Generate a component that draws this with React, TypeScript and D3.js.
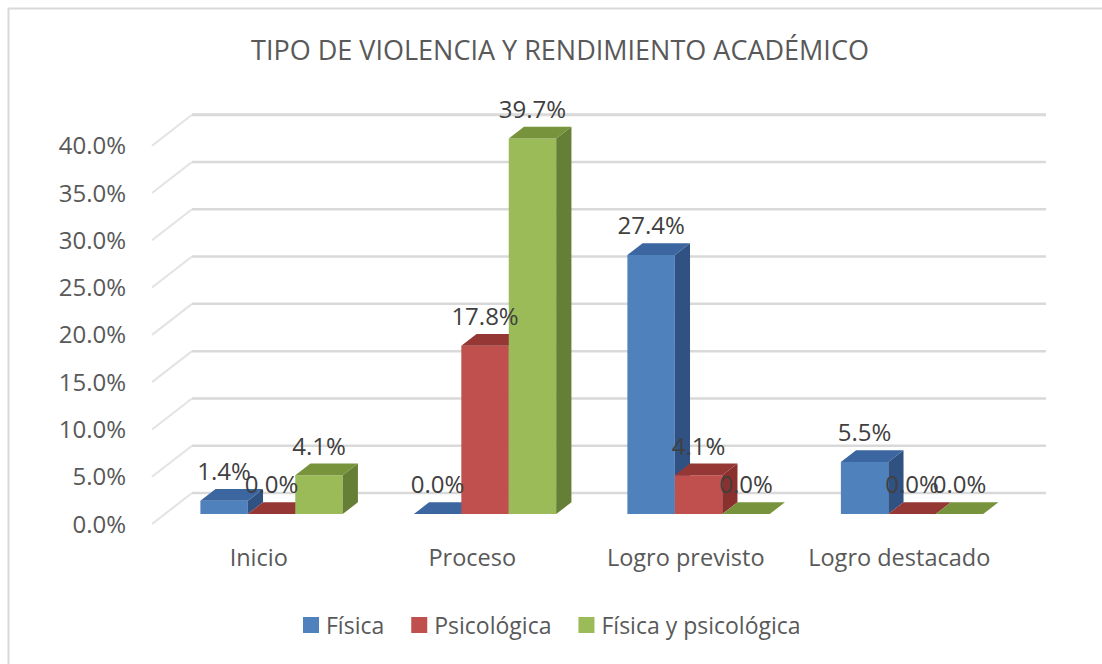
import React, { useEffect, useRef } from 'react';
import * as d3 from 'd3';

const title = 'TIPO DE VIOLENCIA Y RENDIMIENTO ACADÉMICO';
const categories = ['Inicio', 'Proceso', 'Logro previsto', 'Logro destacado'];
const seriesNames = ['Física', 'Psicológica', 'Física y psicológica'];
const fisica = [1.4, 0.0, 27.4, 5.5];
const psicologica = [0.0, 17.8, 4.1, 0.0];
const ambas = [4.1, 39.7, 0.0, 0.0];
const yTicks = [0, 5, 10, 15, 20, 25, 30, 35, 40];

// front / top / side shades per series
const colors = [
  { front: '#4F81BD', top: '#3B66A0', side: '#2F5283' },
  { front: '#C0504D', top: '#953735', side: '#8A302E' },
  { front: '#9BBB59', top: '#77933C', side: '#657F36' },
];

const FONT = "'Open Sans', sans-serif";

const App = () => {
  const ref = useRef<SVGSVGElement>(null);

  useEffect(() => {
    const svg = d3.select(ref.current);
    svg.selectAll('*').remove();

    const values = [fisica, psicologica, ambas];

    // floor front edge and depth vector of the 3D box
    const left = 152;
    const right = 1006;
    const depthX = 40;
    const depthY = -31;
    const t0 = 0.32; // bar front depth
    const t1 = 0.7; // bar back depth

    const y = d3.scaleLinear().domain([0, 40]).range([524, 145.7]);
    const x = d3.scaleBand().domain(categories).range([left, right]);
    const xs = d3
      .scaleBand()
      .domain(seriesNames)
      .range([0, x.bandwidth()])
      .paddingInner(0)
      .paddingOuter(0.75);

    // border of the chart area
    svg.append('path')
      .attr('d', 'M8.5,664 L8.5,8.5 L1102,8.5')
      .attr('fill', 'none')
      .attr('stroke', '#D9D9D9')
      .attr('stroke-width', 2);

    svg.append('text')
      .attr('x', 560)
      .attr('y', 60)
      .attr('text-anchor', 'middle')
      .attr('font-family', FONT)
      .attr('font-size', 27)
      .attr('fill', '#595959')
      .text(title);

    // gridlines: diagonal on the side wall, then along the back wall
    const grid = svg.append('g');
    yTicks.forEach((v) => {
      const y0 = y(v);
      grid.append('line')
        .attr('x1', left).attr('y1', y0)
        .attr('x2', left + depthX).attr('y2', y0 + depthY)
        .attr('stroke', '#E3E3E3').attr('stroke-width', 2);
      grid.append('line')
        .attr('x1', left + depthX).attr('y1', y0 + depthY)
        .attr('x2', right + depthX).attr('y2', y0 + depthY)
        .attr('stroke', '#D9D9D9').attr('stroke-width', v === 40 ? 3 : 2.5);
    });

    // y axis labels
    svg.append('g')
      .selectAll('text')
      .data(yTicks)
      .enter()
      .append('text')
      .attr('x', 126)
      .attr('y', (d) => y(d))
      .attr('dy', '0.36em')
      .attr('text-anchor', 'end')
      .attr('font-family', FONT)
      .attr('font-size', 24)
      .attr('fill', '#595959')
      .text((d) => d.toFixed(1) + '%');

    const pt = (px: number, py: number, t: number) =>
      [px + t * depthX, py + t * depthY].join(',');

    const bars = svg.append('g');
    const labels: { x: number; y: number; text: string }[] = [];
    categories.forEach((cat, ci) => {
      seriesNames.forEach((s, si) => {
        const v = values[si][ci];
        const c = colors[si];
        const x0 = (x(cat) as number) + (xs(s) as number);
        const x1 = x0 + xs.bandwidth();
        const yb = y(0);
        const yt = y(v);
        if (v > 0) {
          bars.append('polygon')
            .attr('points', [pt(x0, yt, t0), pt(x1, yt, t0), pt(x1, yb, t0), pt(x0, yb, t0)].join(' '))
            .attr('fill', c.front);
          bars.append('polygon')
            .attr('points', [pt(x1, yt, t0), pt(x1, yt, t1), pt(x1, yb, t1), pt(x1, yb, t0)].join(' '))
            .attr('fill', c.side);
        }
        bars.append('polygon')
          .attr('points', [pt(x0, yt, t0), pt(x1, yt, t0), pt(x1, yt, t1), pt(x0, yt, t1)].join(' '))
          .attr('fill', c.top);
        labels.push({
          x: (x0 + x1) / 2 + t0 * depthX,
          y: yt + t1 * depthY - 9,
          text: v.toFixed(1) + '%',
        });
      });
    });

    svg.append('g')
      .selectAll('text')
      .data(labels)
      .enter()
      .append('text')
      .attr('x', (d) => d.x)
      .attr('y', (d) => d.y)
      .attr('text-anchor', 'middle')
      .attr('font-family', FONT)
      .attr('font-size', 24)
      .attr('fill', '#404040')
      .text((d) => d.text);

    // category labels along the front edge of the floor
    svg.append('g')
      .selectAll('text')
      .data(categories)
      .enter()
      .append('text')
      .attr('x', (d) => (x(d) as number) + x.bandwidth() / 2)
      .attr('y', 566)
      .attr('text-anchor', 'middle')
      .attr('font-family', FONT)
      .attr('font-size', 23.5)
      .attr('fill', '#595959')
      .text((d) => d);

    // legend
    const legend = svg.append('g');
    let lx = 303;
    seriesNames.forEach((s, i) => {
      legend.append('rect')
        .attr('x', lx).attr('y', 617)
        .attr('width', 16).attr('height', 16)
        .attr('fill', colors[i].front);
      const t = legend.append('text')
        .attr('x', lx + 23)
        .attr('y', 634)
        .attr('font-family', FONT)
        .attr('font-size', 23)
        .attr('fill', '#595959')
        .text(s);
      const w = (t.node() as SVGTextElement).getComputedTextLength();
      lx += 23 + w + 27;
    });
  }, []);

  return (
    <svg
      ref={ref}
      width={1102}
      height={664}
      style={{ position: 'absolute', left: 0, top: 0, background: '#fff' }}
    />
  );
};

export default App;
